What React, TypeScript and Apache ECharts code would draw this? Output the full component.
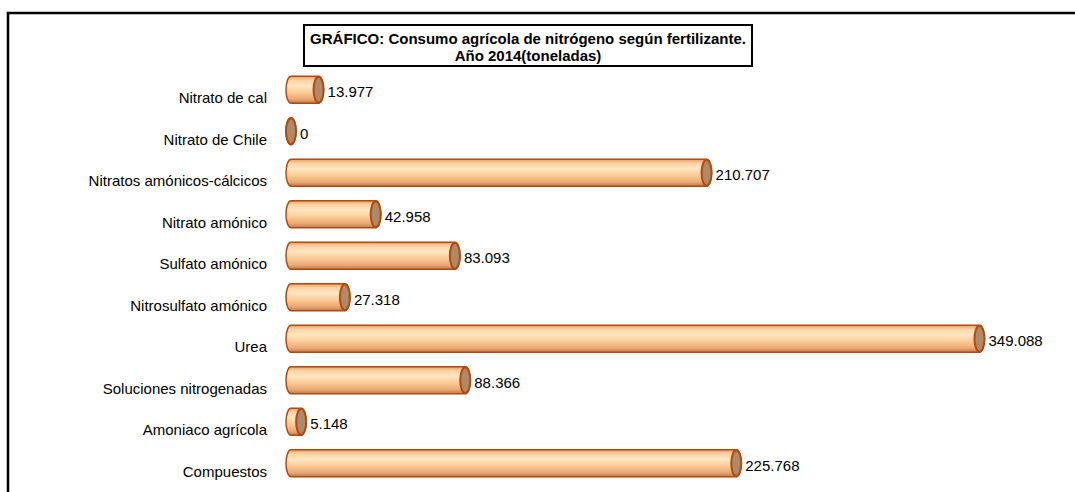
import React, { useEffect, useRef } from "react";
import * as echarts from "echarts";

const categories = [
  "Nitrato de cal",
  "Nitrato de Chile",
  "Nitratos amónicos-cálcicos",
  "Nitrato amónico",
  "Sulfato amónico",
  "Nitrosulfato amónico",
  "Urea",
  "Soluciones nitrogenadas",
  "Amoniaco agrícola",
  "Compuestos",
];
const values = [13977, 0, 210707, 42958, 83093, 27318, 349088, 88366, 5148, 225768];
const titleLines = [
  "GRÁFICO: Consumo agrícola de nitrógeno según fertilizante.",
  "Año 2014(toneladas)",
];

const FONT = "'Liberation Sans', Arial, sans-serif";

function fmt(v: number): string {
  return String(Math.round(v)).replace(/\B(?=(\d{3})+(?!\d))/g, ".");
}

export default function App() {
  const ref = useRef<HTMLDivElement>(null);
  useEffect(() => {
    if (!ref.current) return;
    const chart = echarts.init(ref.current, null, { renderer: "svg" });
    const bodyFill = new echarts.graphic.LinearGradient(0, 0, 0, 1, [
      { offset: 0, color: "#E8A066" },
      { offset: 0.15, color: "#FBD3A4" },
      { offset: 0.35, color: "#FFE6C2" },
      { offset: 0.6, color: "#FBCB95" },
      { offset: 0.85, color: "#E9A773" },
      { offset: 1, color: "#B97C4E" },
    ]);
    chart.setOption({
      animation: false,
      grid: { left: 291, right: 74, top: 77, bottom: 0, containLabel: false },
      xAxis: {
        type: "value",
        min: 0,
        max: 360000,
        show: false,
      },
      yAxis: {
        type: "category",
        data: categories,
        inverse: true,
        axisLine: { show: false },
        axisTick: { show: false },
        splitLine: { show: false },
        axisLabel: {
          color: "#000",
          fontSize: 15,
          fontFamily: FONT,
          margin: 24,
        },
      },
      graphic: [
        {
          type: "polyline",
          shape: { points: [[8, 500], [8, 13], [1080, 13]] },
          style: { stroke: "#000", lineWidth: 2.5, fill: "none" },
          z: 10,
        },
        {
          type: "rect",
          shape: { x: 304, y: 25, width: 448, height: 41 },
          style: { stroke: "#000", lineWidth: 2, fill: "#fff" },
          z: 10,
        },
        {
          type: "text",
          x: 528,
          y: 38,
          style: {
            text: titleLines[0],
            font: "bold 15px " + FONT,
            fill: "#000",
            align: "center",
            verticalAlign: "middle",
          },
          z: 11,
        },
        {
          type: "text",
          x: 528,
          y: 55,
          style: {
            text: titleLines[1],
            font: "bold 15px " + FONT,
            fill: "#000",
            align: "center",
            verticalAlign: "middle",
          },
          z: 11,
        },
      ],
      series: [
        {
          type: "custom",
          encode: { x: 0, y: 1 },
          data: values.map((v, i) => [v, i]),
          renderItem: (params: any, api: any) => {
            const v = api.value(0);
            const idx = api.value(1);
            const p0 = api.coord([0, idx]);
            const p1 = api.coord([v, idx]);
            const h = 27;
            const rx = 5;
            const ry = h / 2;
            const yc = p0[1] - 8;
            const yT = yc - ry;
            const yB = yc + ry;
            const x0 = p0[0];
            const x1 = p1[0];
            const d =
              `M ${x0} ${yT} L ${x1} ${yT} A ${rx} ${ry} 0 0 1 ${x1} ${yB} ` +
              `L ${x0} ${yB} A ${rx} ${ry} 0 0 1 ${x0} ${yT} Z`;
            return {
              type: "group",
              children: [
                {
                  type: "path",
                  shape: { pathData: d },
                  style: { fill: bodyFill, stroke: "#B24A10", lineWidth: 1.5 },
                },
                {
                  type: "ellipse",
                  shape: { cx: x1, cy: yc, rx: rx, ry: ry - 0.5 },
                  style: { fill: "#AE8A6B", stroke: "#B24A10", lineWidth: 2 },
                },
                {
                  type: "text",
                  x: x1 + rx + 4,
                  y: p0[1] - 6,
                  style: {
                    text: fmt(v),
                    font: "15px " + FONT,
                    fill: "#000",
                    align: "left",
                    verticalAlign: "middle",
                  },
                },
              ],
            };
          },
        },
      ],
    });
    return () => chart.dispose();
  }, []);
  return (
    <div
      ref={ref}
      style={{ position: "fixed", left: 0, top: 0, width: 1075, height: 492, background: "#fff" }}
    />
  );
}
